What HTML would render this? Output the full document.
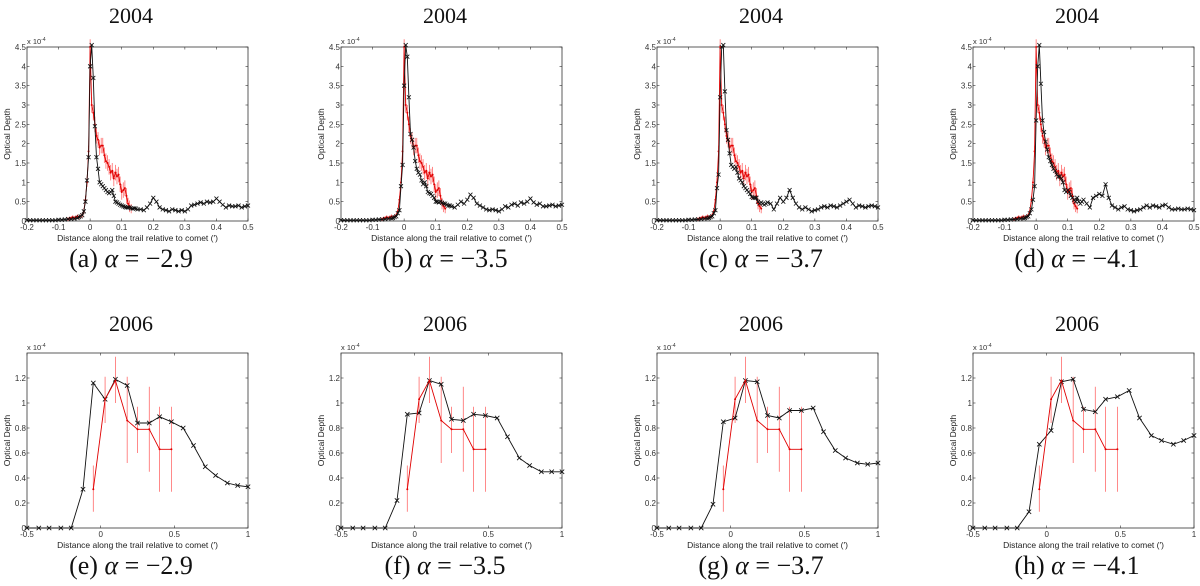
<!DOCTYPE html>
<html><head><meta charset="utf-8"><style>
html,body{margin:0;padding:0;background:#fff;}
svg{display:block;font-family:"Liberation Sans",sans-serif;}
</style></head><body>
<svg id="fig" width="1200" height="586" xmlns="http://www.w3.org/2000/svg"></svg>
<script>
// ---------- 2004 data ----------
const xTopBlackFar = [-0.20,-0.19,-0.18,-0.17,-0.16,-0.15,-0.14,-0.13,-0.12,-0.11,-0.10,-0.09,-0.08,-0.07,-0.06,-0.05,-0.04];
const xTopBlackMid = [-0.035,-0.03,-0.025,-0.02,-0.015,-0.01,-0.005,0,0.005,0.01,0.015,0.02,0.025,0.03,0.035,0.04,0.045,0.05,0.055,0.06,0.065,0.07,0.075,0.08,0.085,0.09,0.095,0.10,0.105,0.11,0.115,0.12,0.125,0.13,0.135,0.14,0.145,0.15];
const xTopBlackRight = [0.16,0.17,0.18,0.19,0.20,0.21,0.22,0.23,0.24,0.25,0.26,0.27,0.28,0.29,0.30,0.31,0.32,0.33,0.34,0.35,0.36,0.37,0.38,0.39,0.40,0.41,0.42,0.43,0.44,0.45,0.46,0.47,0.48,0.49,0.50];
const xTopRed = [-0.07,-0.065,-0.06,-0.055,-0.05,-0.045,-0.04,-0.035,-0.03,-0.025,-0.02,-0.015,-0.01,-0.005,0,0.005,0.01,0.015,0.02,0.025,0.03,0.035,0.04,0.045,0.05,0.055,0.06,0.065,0.07,0.075,0.08,0.085,0.09,0.095,0.10,0.105,0.11,0.115,0.12,0.125,0.13];
const yTopRed = [0.05,0.06,0.08,0.1,0.08,0.1,0.12,0.1,0.12,0.15,0.25,0.55,1.0,1.8,4.5,3.0,2.8,2.5,2.2,2.1,1.9,1.95,1.95,1.7,1.55,1.5,1.4,1.25,1.3,1.1,1.25,1.15,1.2,0.95,0.75,0.8,0.85,0.65,0.45,0.38,0.32];
const errTopRed = [0.05,0.05,0.05,0.05,0.05,0.05,0.05,0.05,0.05,0.06,0.08,0.1,0.12,0.15,0.2,0.2,0.2,0.2,0.2,0.2,0.2,0.2,0.2,0.2,0.2,0.2,0.2,0.2,0.2,0.2,0.2,0.2,0.2,0.2,0.2,0.2,0.2,0.2,0.15,0.15,0.12];
const farA = [0.02,0.02,0.02,0.02,0.02,0.02,0.02,0.02,0.02,0.02,0.03,0.03,0.04,0.05,0.05,0.06,0.08];
const farB = [0.02,0.02,0.02,0.02,0.02,0.02,0.02,0.02,0.02,0.02,0.03,0.03,0.04,0.04,0.05,0.06,0.07];
const midA = [0.1,0.12,0.15,0.25,0.5,1.05,1.65,4.0,4.55,3.7,2.45,1.65,1.35,1.0,0.95,0.9,0.85,0.8,0.75,0.72,0.75,0.8,0.65,0.5,0.48,0.45,0.42,0.4,0.38,0.36,0.35,0.35,0.35,0.33,0.32,0.33,0.32,0.3];
const rightA = [0.3,0.28,0.35,0.45,0.6,0.5,0.35,0.3,0.28,0.25,0.3,0.28,0.25,0.28,0.25,0.3,0.4,0.42,0.45,0.48,0.45,0.5,0.48,0.5,0.58,0.5,0.42,0.35,0.4,0.38,0.38,0.4,0.35,0.38,0.4];
const midB = [0.08,0.1,0.12,0.2,0.28,0.9,1.45,3.5,4.55,4.25,3.2,2.25,2.1,1.9,1.55,1.35,1.25,1.2,1.05,0.95,1.0,0.9,0.75,0.72,0.7,0.65,0.6,0.5,0.5,0.48,0.5,0.47,0.45,0.45,0.42,0.4,0.4,0.38];
const rightB = [0.35,0.42,0.5,0.45,0.55,0.68,0.6,0.45,0.4,0.35,0.3,0.28,0.3,0.28,0.25,0.3,0.38,0.35,0.42,0.45,0.4,0.48,0.45,0.5,0.58,0.48,0.42,0.45,0.38,0.38,0.4,0.42,0.38,0.4,0.42];
const midC = [0.08,0.1,0.12,0.2,0.28,0.85,1.2,3.2,4.5,4.55,3.35,2.35,2.1,1.75,1.45,1.4,1.35,1.4,1.25,1.1,1.05,1.0,0.9,0.85,0.8,0.75,0.7,0.62,0.6,0.6,0.6,0.5,0.45,0.48,0.45,0.42,0.45,0.48];
const rightC = [0.45,0.3,0.45,0.6,0.5,0.6,0.8,0.6,0.45,0.35,0.3,0.35,0.3,0.25,0.28,0.3,0.35,0.38,0.35,0.4,0.38,0.35,0.4,0.45,0.5,0.55,0.45,0.35,0.4,0.38,0.35,0.38,0.4,0.38,0.35];
const midD = [0.08,0.1,0.12,0.2,0.3,0.55,0.9,2.6,4.0,4.55,3.55,2.6,2.3,2.05,1.85,1.65,1.55,1.45,1.35,1.3,1.2,1.15,1.15,1.1,1.0,0.8,0.75,0.8,0.75,0.65,0.6,0.55,0.5,0.6,0.5,0.45,0.5,0.55];
const rightD = [0.45,0.35,0.6,0.65,0.7,0.65,0.95,0.6,0.4,0.35,0.3,0.35,0.38,0.3,0.28,0.25,0.28,0.3,0.35,0.4,0.35,0.4,0.38,0.35,0.4,0.42,0.35,0.3,0.3,0.32,0.3,0.3,0.32,0.3,0.28];
const xTicksTop = [-0.2,-0.1,0,0.1,0.2,0.3,0.4,0.5];
const xTickLabelsTop = ["-0.2","-0.1","0","0.1","0.2","0.3","0.4","0.5"];
const yTicksTop = [0,0.5,1,1.5,2,2.5,3,3.5,4,4.5];
const yTickLabelsTop = ["0","0.5","1","1.5","2","2.5","3","3.5","4","4.5"];
// ---------- 2006 data ----------
const xBotBlack = [-0.5,-0.42,-0.35,-0.27,-0.2,-0.12,-0.05,0.03,0.1,0.18,0.25,0.33,0.4,0.48,0.56,0.63,0.71,0.78,0.86,0.93,1.0];
const yBotE = [0,0,0,0,0,0.31,1.16,1.03,1.19,1.14,0.84,0.84,0.89,0.85,0.80,0.66,0.49,0.42,0.36,0.34,0.33];
const yBotF = [0,0,0,0,0,0.22,0.91,0.92,1.18,1.15,0.87,0.86,0.91,0.90,0.88,0.73,0.56,0.50,0.45,0.45,0.45];
const yBotG = [0,0,0,0,0,0.19,0.85,0.88,1.18,1.17,0.90,0.88,0.94,0.94,0.96,0.77,0.62,0.56,0.52,0.51,0.52];
const yBotH = [0,0,0,0,0,0.13,0.67,0.78,1.17,1.19,0.95,0.93,1.03,1.05,1.10,0.88,0.74,0.70,0.67,0.70,0.74];
const xBotRed = [-0.05,0.03,0.1,0.18,0.25,0.33,0.4,0.48];
const yBotRed = [0.31,1.03,1.18,0.86,0.79,0.79,0.63,0.63];
const hiBotRed = [0.5,1.21,1.37,1.21,0.97,1.13,0.97,0.97];
const loBotRed = [0.13,0.84,1.0,0.52,0.6,0.45,0.29,0.29];
const xTicksBot = [-0.5,0,0.5,1];
const xTickLabelsBot = ["-0.5","0","0.5","1"];
const yTicksBot = [0,0.2,0.4,0.6,0.8,1,1.2];
const yTickLabelsBot = ["0","0.2","0.4","0.6","0.8","1","1.2"];
const captionsTop = ["(a)","(b)","(c)","(d)"];
const captionsBot = ["(e)","(f)","(g)","(h)"];
const alphas = ["2.9","3.5","3.7","4.1"];

const NS = "http://www.w3.org/2000/svg";
const svg = document.getElementById("fig");
function mk(tag, attrs, parent){
  const e = document.createElementNS(NS, tag);
  for (const k in attrs) e.setAttribute(k, attrs[k]);
  (parent||svg).appendChild(e);
  return e;
}
const lefts = [27,341,657,973];
const W = 221;

function panel(i, row){
  const top = row===0 ? 47 : 353;
  const bottom = row===0 ? 221 : 528;
  const L = lefts[i];
  const xmin = row===0 ? -0.2 : -0.5, xmax = row===0 ? 0.5 : 1;
  const ymax = row===0 ? 4.5 : 1.4;
  const sx = v => L + (v - xmin)/(xmax - xmin)*W;
  const sy = v => bottom - v/ymax*(bottom-top);
  const g = mk("g", {});
  
  
  const cx = L + 104;
  const t = mk("text", {x:cx, y: row===0?23:331, "text-anchor":"middle", "font-family":"Liberation Serif, serif", "font-size":"22", fill:"#111"}, g);
  t.textContent = row===0 ? "2004" : "2006";
  
  
  const cap = mk("text", {x:cx, y: row===0?267:574, "text-anchor":"middle", "font-family":"Liberation Serif, serif", "font-size":"26", fill:"#111"}, g);
  cap.innerHTML = (row===0?captionsTop[i]:captionsBot[i]) + ' <tspan font-style="italic">α</tspan> = −' + alphas[i];
  
  
  const box = mk("rect", {x:L, y:top, width:W, height:bottom-top, fill:"none", stroke:"#333", "stroke-width":"0.8"}, g);
  
  
  const xt = row===0 ? xTicksTop : xTicksBot, xl = row===0 ? xTickLabelsTop : xTickLabelsBot;
  const yt = row===0 ? yTicksTop : yTicksBot, yl = row===0 ? yTickLabelsTop : yTickLabelsBot;
  xt.forEach((v,k)=>{
    const x = sx(v);
    mk("line",{x1:x,x2:x,y1:bottom,y2:bottom-2.5,stroke:"#333","stroke-width":"0.6"},g);
    mk("line",{x1:x,x2:x,y1:top,y2:top+2.5,stroke:"#333","stroke-width":"0.6"},g);
    const tx = mk("text",{x:x,y:bottom+9,"text-anchor":"middle","font-size":"8",fill:"#333"},g);
    tx.textContent = xl[k];
    
    
  });
  yt.forEach((v,k)=>{
    const y = sy(v);
    mk("line",{x1:L,x2:L+2.5,y1:y,y2:y,stroke:"#333","stroke-width":"0.6"},g);
    mk("line",{x1:L+W,x2:L+W-2.5,y1:y,y2:y,stroke:"#333","stroke-width":"0.6"},g);
    const ty = mk("text",{x:L-1,y:y+3,"text-anchor":"end","font-size":"8",fill:"#333"},g);
    ty.textContent = yl[k];
    
    
  });
  const ex = mk("text",{x:L,y:top-3,"font-size":"7.5",fill:"#333"},g);
  ex.innerHTML = 'x 10<tspan dy="-3" font-size="5">-4</tspan>';
  
  
  const xlab = mk("text",{x:L+W/2,y:bottom+20,"text-anchor":"middle","font-size":"8.5",fill:"#222"},g);
  xlab.textContent = "Distance along the trail relative to comet (′)";
  
  
  const ym = (top+bottom)/2;
  const ylab = mk("text",{x:L-17,y:ym,"text-anchor":"middle","font-size":"8.5",fill:"#222",transform:`rotate(-90 ${L-17} ${ym})`},g);
  ylab.textContent = "Optical Depth";
  
  
  return {g, sx, sy};
}

function drawBlack(p, xs, ys, sz){
  const pts = xs.map((x,k)=>p.sx(x).toFixed(1)+","+p.sy(ys[k]).toFixed(1)).join(" ");
  const line = mk("polyline",{points:pts,fill:"none",stroke:"#111","stroke-width":"0.9"},p.g);
  
  
  xs.forEach((x,k)=>{
    const cx = p.sx(x), cy = p.sy(ys[k]);
    const m = mk("path",{d:`M${cx-sz},${cy-sz}L${cx+sz},${cy+sz}M${cx-sz},${cy+sz}L${cx+sz},${cy-sz}`,stroke:"#111","stroke-width":"0.8"},p.g);
    
    
  });
}
function drawRedBars(p, xs, lo, hi){
  xs.forEach((x,k)=>{
    const e = mk("line",{x1:p.sx(x),x2:p.sx(x),y1:p.sy(lo[k]),y2:p.sy(hi[k]),stroke:"#ff6a6a","stroke-width":"0.8"},p.g);
    
    
  });
}
function drawRed(p, xs, ys){
  const pts = xs.map((x,k)=>p.sx(x).toFixed(1)+","+p.sy(ys[k]).toFixed(1)).join(" ");
  const line = mk("polyline",{points:pts,fill:"none",stroke:"#e00000","stroke-width":"0.9"},p.g);
  
  
  xs.forEach((x,k)=>{
    const d = mk("circle",{cx:p.sx(x),cy:p.sy(ys[k]),r:1,fill:"#e00000"},p.g);
    
    
  });
}

const xTopBlack = xTopBlackFar.concat(xTopBlackMid, xTopBlackRight);
const tops = [
  farA.concat(midA, rightA),
  farB.concat(midB, rightB),
  farB.concat(midC, rightC),
  farB.concat(midD, rightD)
];
const redLo = yTopRed.map((v,k)=>Math.max(0, v - errTopRed[k]));
const redHi = yTopRed.map((v,k)=>v + errTopRed[k]);
for (let i=0;i<4;i++){
  const p = panel(i,0);
  drawRedBars(p, xTopRed, redLo, redHi);
  drawRed(p, xTopRed, yTopRed);
  drawBlack(p, xTopBlack, tops[i], 2);
}
const bots = [yBotE, yBotF, yBotG, yBotH];
for (let i=0;i<4;i++){
  const p = panel(i,1);
  drawRedBars(p, xBotRed, loBotRed, hiBotRed);
  drawBlack(p, xBotBlack, bots[i], 2.2);
  drawRed(p, xBotRed, yBotRed);
}
</script>
</body></html>
